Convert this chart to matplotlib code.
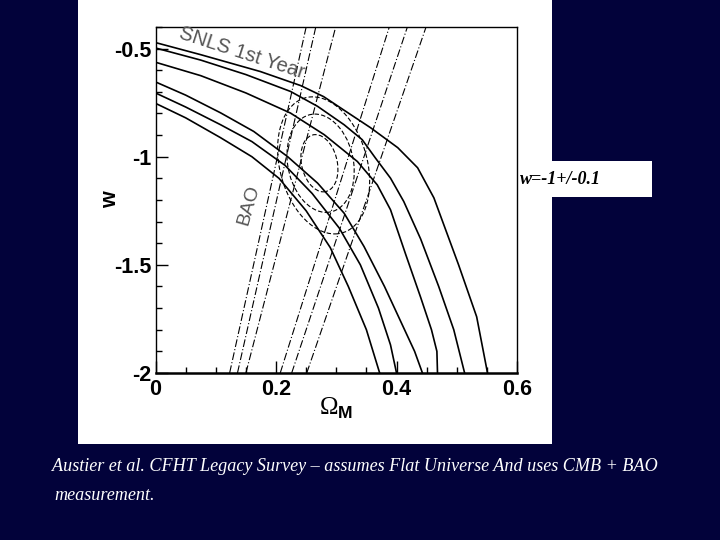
import matplotlib
matplotlib.use("Agg")
import matplotlib.pyplot as plt
from matplotlib.patches import Ellipse, Rectangle
from matplotlib.ticker import MultipleLocator, FuncFormatter

plt.rcParams["axes.unicode_minus"] = False
plt.rcParams["mathtext.fontset"] = "custom"
plt.rcParams["mathtext.rm"] = "Liberation Serif"
plt.rcParams["mathtext.bf"] = "Liberation Sans:bold"

# --- data (Omega_M, w) ---
# SNLS 1st year contours, upper edge of the band (1, 2, 3 sigma)
snls_up1_om = [0, 0.075, 0.15, 0.224, 0.28, 0.335, 0.368, 0.39, 0.415, 0.44, 0.458, 0.467, 0.468]
snls_up1_w = [-0.563, -0.625, -0.705, -0.798, -0.898, -1.022, -1.13, -1.245, -1.45, -1.65, -1.8, -1.9, -2.0]
snls_up2_om = [0, 0.075, 0.15, 0.224, 0.269, 0.313, 0.343, 0.365, 0.39, 0.412, 0.44, 0.47, 0.495, 0.513]
snls_up2_w = [-0.497, -0.553, -0.62, -0.698, -0.767, -0.852, -0.921, -1.006, -1.099, -1.207, -1.38, -1.6, -1.8, -2.0]
snls_up3_om = [0, 0.075, 0.174, 0.241, 0.279, 0.319, 0.357, 0.402, 0.435, 0.462, 0.503, 0.533, 0.551]
snls_up3_w = [-0.472, -0.528, -0.606, -0.671, -0.722, -0.796, -0.866, -0.958, -1.051, -1.19, -1.5, -1.74, -2.0]
# lower edge of the band (1, 2, 3 sigma)
snls_lo1_om = [0, 0.05, 0.108, 0.163, 0.219, 0.269, 0.313, 0.346, 0.38, 0.41, 0.43, 0.443]
snls_lo1_w = [-0.654, -0.715, -0.797, -0.883, -0.999, -1.122, -1.261, -1.415, -1.6, -1.78, -1.9, -2.0]
snls_lo2_om = [0, 0.05, 0.108, 0.16, 0.215, 0.26, 0.305, 0.34, 0.37, 0.39, 0.4]
snls_lo2_w = [-0.705, -0.77, -0.852, -0.93, -1.04, -1.17, -1.33, -1.5, -1.7, -1.87, -2.0]
snls_lo3_om = [0, 0.05, 0.108, 0.16, 0.205, 0.25, 0.29, 0.32, 0.35, 0.372]
snls_lo3_w = [-0.753, -0.82, -0.912, -1.0, -1.1, -1.25, -1.42, -1.6, -1.8, -2.0]

# BAO band: straight lines between w=-2 and w=-0.4
bao_w = [-2.0, -0.4]
bao_left_bottom = [0.123, 0.136, 0.150]
bao_left_top = [0.250, 0.266, 0.299]
bao_right_bottom = [0.207, 0.226, 0.251]
bao_right_top = [0.388, 0.418, 0.449]

# combined SNLS + BAO ellipses (1, 2, 3 sigma)
ell_om = [0.272, 0.274, 0.279]
ell_w = [-1.03, -1.03, -1.04]
ell_dom = [0.060, 0.110, 0.148]
ell_dw = [0.265, 0.455, 0.635]
ell_angle = [3, 2.5, 3.5]

x_ticks = [0, 0.2, 0.4, 0.6]
y_ticks = [-2, -1.5, -1, -0.5]

NAVY = "#02023a"

fig = plt.figure(figsize=(7.2, 5.4), dpi=100, facecolor=NAVY)

# white slide panel behind the plot
fig.patches.append(Rectangle((0.1083, 0.1778), 0.6583, 0.8222, transform=fig.transFigure,
                             facecolor="white", edgecolor="none", zorder=-5))
# white note box at the right
fig.patches.append(Rectangle((0.7667, 0.6352), 0.1389, 0.0667, transform=fig.transFigure,
                             facecolor="white", edgecolor="none", zorder=-5))

ax = fig.add_axes([0.2160, 0.3093, 0.5021, 0.6407])
ax.set_facecolor("white")

snls = [(snls_up1_om, snls_up1_w), (snls_up2_om, snls_up2_w), (snls_up3_om, snls_up3_w),
        (snls_lo1_om, snls_lo1_w), (snls_lo2_om, snls_lo2_w), (snls_lo3_om, snls_lo3_w)]
for om, w in snls:
    ax.plot(om, w, color="black", lw=1.2, solid_joinstyle="round")

for b, t in zip(bao_left_bottom + bao_right_bottom, bao_left_top + bao_right_top):
    ax.plot([b, t], bao_w, color="black", lw=0.8, linestyle=(0, (7, 2, 1, 2)))

for c_om, c_w, d_om, d_w, ang in zip(ell_om, ell_w, ell_dom, ell_dw, ell_angle):
    ax.add_patch(Ellipse((c_om, c_w), d_om, d_w, angle=ang, fill=False,
                         edgecolor="black", lw=0.8, linestyle=(0, (4, 2))))

ax.text(0.143, -0.52, "SNLS 1st Year", rotation=-18, color="#555555", fontsize=14.5,
        family="Liberation Sans", ha="center", va="center")
ax.text(0.154, -1.225, "BAO", rotation=74, color="#555555", fontsize=14,
        family="Liberation Sans", ha="center", va="center")

ax.set_xlim(0, 0.6)
ax.set_ylim(-2, -0.4)
ax.set_xticks(x_ticks)
ax.set_yticks(y_ticks)
ax.xaxis.set_minor_locator(MultipleLocator(0.05))
ax.yaxis.set_minor_locator(MultipleLocator(0.1))
ax.xaxis.set_major_formatter(FuncFormatter(lambda v, p: f"{v:g}"))
ax.yaxis.set_major_formatter(FuncFormatter(lambda v, p: f"{v:g}"))
ax.tick_params(which="major", direction="in", length=8.5, width=1, top=False, right=False,
               labelsize=15.5, colors="black")
ax.tick_params(axis="y", which="major", pad=3)
ax.tick_params(axis="x", which="major", pad=4)
ax.tick_params(which="minor", direction="in", length=4, width=1, top=False, right=False)
for lab in ax.get_xticklabels() + ax.get_yticklabels():
    lab.set_fontweight("bold")
    lab.set_family("Liberation Sans")
for s in ax.spines.values():
    s.set_linewidth(1.0)
ax.spines["bottom"].set_linewidth(1.8)

ax.set_ylabel("w", fontsize=15.5, fontweight="bold", family="Liberation Sans")
ax.yaxis.set_label_coords(-0.095, 0.5)
ax.set_xlabel(r"$\mathrm{\Omega}_{\mathbf{M}}$", fontsize=18)
ax.xaxis.set_label_coords(0.5, -0.065)

fig.text(0.722, 0.6667, "w=-1+/-0.1", color="black", fontsize=13, style="italic",
         fontweight="bold", family="Liberation Serif", ha="left", va="center")

fig.text(0.072, 0.1352, "Austier et al. CFHT Legacy Survey \u2013 assumes Flat Universe And uses CMB + BAO",
         color="white", fontsize=13.1, style="italic", family="Liberation Serif",
         ha="left", va="center")
fig.text(0.076, 0.0815, "measurement.", color="white", fontsize=13.1, style="italic",
         family="Liberation Serif", ha="left", va="center")

fig.savefig("out.png", dpi=100, facecolor=NAVY)
